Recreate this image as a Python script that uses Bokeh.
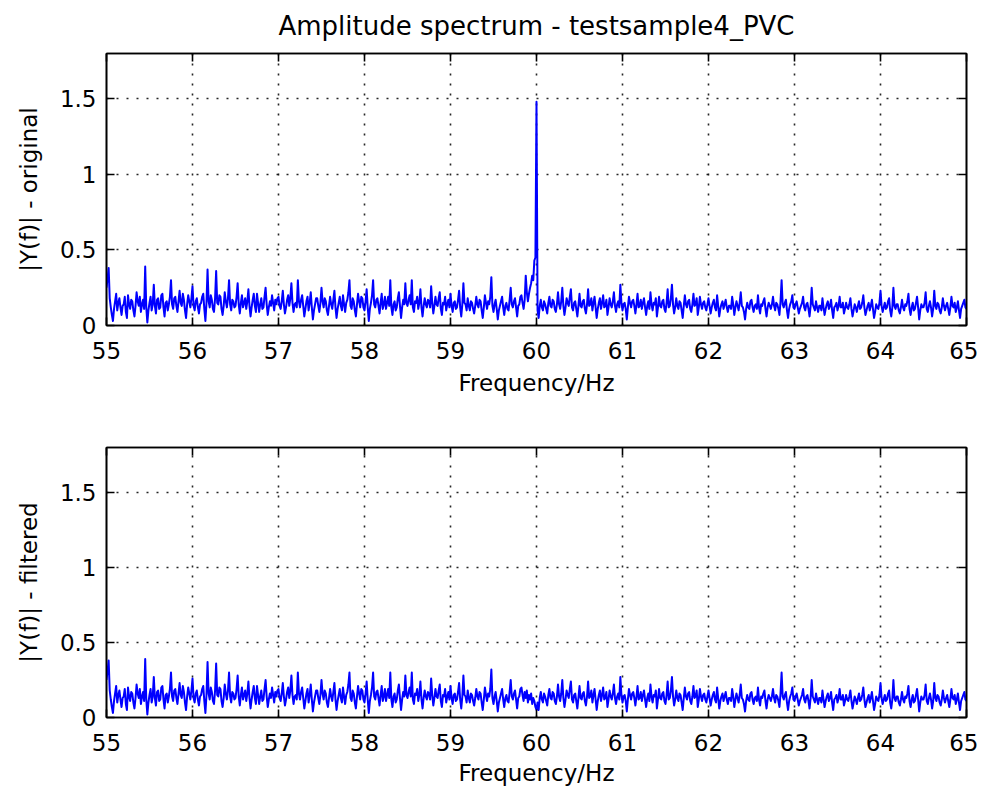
import numpy as np
from bokeh.plotting import figure
from bokeh.layouts import column
from bokeh.models import LinearAxis, Range1d, FixedTicker
from bokeh.embed import file_html
from bokeh.resources import INLINE

# ---------------- data ----------------
title_text = "Amplitude spectrum - testsample4_PVC"
x_label = "Frequency/Hz"
y_label_top = "|Y(f)| - original"
y_label_bottom = "|Y(f)| - filtered"

freq_start = 55.0
freq_step = 0.0125

# |Y(f)| original, one value per 0.0125 Hz from 55.000 to 65.000 (20 values = 0.25 Hz per row)
original = [
    0.25, 0.31, 0.38, 0.18, 0.12, 0.07, 0.03, 0.11, 0.16, 0.21, 0.10, 0.15, 0.18, 0.12, 0.07, 0.13, 0.14, 0.19, 0.09, 0.05,
    0.20, 0.14, 0.11, 0.17, 0.16, 0.10, 0.06, 0.13, 0.22, 0.16, 0.13, 0.19, 0.09, 0.14, 0.17, 0.11, 0.39, 0.12, 0.02, 0.10,
    0.15, 0.19, 0.10, 0.14, 0.27, 0.13, 0.08, 0.17, 0.18, 0.11, 0.12, 0.20, 0.21, 0.12, 0.06, 0.15, 0.16, 0.10, 0.14, 0.19,
    0.30, 0.14, 0.11, 0.18, 0.19, 0.13, 0.09, 0.16, 0.23, 0.15, 0.13, 0.21, 0.17, 0.10, 0.05, 0.14, 0.20, 0.16, 0.12, 0.18,
    0.26, 0.13, 0.10, 0.16, 0.18, 0.12, 0.08, 0.14, 0.15, 0.19, 0.21, 0.11, 0.03, 0.15, 0.37, 0.16, 0.12, 0.20, 0.17, 0.11,
    0.09, 0.18, 0.36, 0.15, 0.14, 0.20, 0.19, 0.11, 0.07, 0.13, 0.22, 0.16, 0.12, 0.18, 0.30, 0.14, 0.10, 0.17, 0.16, 0.12,
    0.13, 0.19, 0.28, 0.14, 0.08, 0.15, 0.20, 0.12, 0.15, 0.18, 0.11, 0.16, 0.24, 0.13, 0.06, 0.12, 0.17, 0.21, 0.13, 0.09,
    0.21, 0.15, 0.09, 0.14, 0.18, 0.11, 0.12, 0.19, 0.25, 0.14, 0.07, 0.12, 0.16, 0.13, 0.20, 0.15, 0.10, 0.17, 0.14, 0.18,
    0.19, 0.13, 0.11, 0.16, 0.23, 0.14, 0.08, 0.12, 0.17, 0.20, 0.13, 0.18, 0.28, 0.15, 0.09, 0.14, 0.15, 0.12, 0.30, 0.16,
    0.12, 0.17, 0.20, 0.13, 0.06, 0.11, 0.16, 0.19, 0.10, 0.15, 0.22, 0.12, 0.04, 0.10, 0.14, 0.18, 0.18, 0.13, 0.09, 0.15,
    0.25, 0.16, 0.12, 0.18, 0.16, 0.10, 0.07, 0.13, 0.19, 0.14, 0.11, 0.17, 0.23, 0.12, 0.05, 0.11, 0.15, 0.19, 0.13, 0.10,
    0.20, 0.14, 0.09, 0.15, 0.17, 0.22, 0.30, 0.13, 0.11, 0.18, 0.16, 0.10, 0.06, 0.14, 0.21, 0.16, 0.12, 0.19, 0.18, 0.12,
    0.10, 0.16, 0.24, 0.12, 0.03, 0.11, 0.15, 0.20, 0.30, 0.14, 0.12, 0.17, 0.18, 0.13, 0.08, 0.15, 0.21, 0.11, 0.14, 0.19,
    0.11, 0.15, 0.19, 0.13, 0.30, 0.12, 0.07, 0.14, 0.16, 0.10, 0.12, 0.18, 0.22, 0.13, 0.05, 0.12, 0.17, 0.14, 0.28, 0.15,
    0.13, 0.17, 0.20, 0.14, 0.30, 0.12, 0.09, 0.16, 0.15, 0.19, 0.11, 0.15, 0.24, 0.12, 0.06, 0.13, 0.18, 0.14, 0.12, 0.17,
    0.16, 0.12, 0.26, 0.15, 0.08, 0.13, 0.19, 0.14, 0.13, 0.18, 0.22, 0.11, 0.07, 0.15, 0.14, 0.19, 0.10, 0.14, 0.17, 0.12,
    0.21, 0.13, 0.09, 0.15, 0.16, 0.11, 0.12, 0.17, 0.23, 0.12, 0.06, 0.14, 0.28, 0.15, 0.14, 0.10, 0.18, 0.13, 0.10, 0.16,
    0.15, 0.11, 0.08, 0.13, 0.19, 0.14, 0.12, 0.17, 0.16, 0.10, 0.05, 0.12, 0.20, 0.15, 0.11, 0.16, 0.14, 0.19, 0.32, 0.13,
    0.09, 0.14, 0.17, 0.11, 0.04, 0.10, 0.13, 0.16, 0.19, 0.12, 0.07, 0.13, 0.15, 0.11, 0.10, 0.17, 0.25, 0.14, 0.12, 0.16,
    0.18, 0.12, 0.06, 0.13, 0.14, 0.19, 0.20, 0.15, 0.11, 0.17, 0.33, 0.22, 0.16, 0.21, 0.25, 0.28, 0.33, 0.30, 0.43, 0.45,
    1.48, 0.10, 0.05, 0.13, 0.17, 0.12, 0.10, 0.16, 0.14, 0.11, 0.08, 0.15, 0.19, 0.13, 0.12, 0.17, 0.16, 0.11, 0.09, 0.14,
    0.22, 0.14, 0.11, 0.16, 0.25, 0.13, 0.07, 0.12, 0.18, 0.15, 0.13, 0.19, 0.24, 0.12, 0.10, 0.15, 0.16, 0.11, 0.06, 0.13,
    0.21, 0.13, 0.12, 0.16, 0.17, 0.11, 0.08, 0.14, 0.24, 0.13, 0.14, 0.18, 0.10, 0.15, 0.19, 0.12, 0.05, 0.11, 0.15, 0.18,
    0.11, 0.15, 0.20, 0.12, 0.13, 0.17, 0.07, 0.12, 0.18, 0.14, 0.12, 0.16, 0.22, 0.13, 0.09, 0.14, 0.16, 0.12, 0.27, 0.15,
    0.10, 0.14, 0.15, 0.11, 0.04, 0.12, 0.19, 0.15, 0.12, 0.16, 0.17, 0.13, 0.08, 0.14, 0.21, 0.12, 0.13, 0.17, 0.11, 0.15,
    0.18, 0.12, 0.07, 0.13, 0.16, 0.11, 0.22, 0.14, 0.10, 0.15, 0.14, 0.18, 0.06, 0.12, 0.19, 0.13, 0.12, 0.16, 0.17, 0.11,
    0.09, 0.15, 0.24, 0.12, 0.13, 0.18, 0.27, 0.14, 0.08, 0.12, 0.18, 0.13, 0.11, 0.16, 0.15, 0.10, 0.05, 0.13, 0.20, 0.14,
    0.12, 0.16, 0.17, 0.11, 0.09, 0.14, 0.21, 0.13, 0.14, 0.18, 0.07, 0.12, 0.19, 0.14, 0.11, 0.15, 0.16, 0.12, 0.10, 0.14,
    0.18, 0.13, 0.08, 0.12, 0.15, 0.17, 0.12, 0.10, 0.20, 0.13, 0.06, 0.11, 0.14, 0.16, 0.11, 0.14, 0.17, 0.12, 0.09, 0.13,
    0.13, 0.11, 0.19, 0.14, 0.07, 0.12, 0.16, 0.13, 0.10, 0.15, 0.22, 0.13, 0.12, 0.09, 0.04, 0.11, 0.15, 0.12, 0.11, 0.16,
    0.17, 0.12, 0.09, 0.13, 0.14, 0.11, 0.20, 0.12, 0.08, 0.14, 0.13, 0.16, 0.18, 0.11, 0.06, 0.12, 0.15, 0.13, 0.11, 0.14,
    0.19, 0.13, 0.10, 0.15, 0.14, 0.11, 0.07, 0.16, 0.30, 0.14, 0.12, 0.15, 0.17, 0.10, 0.05, 0.11, 0.14, 0.16, 0.20, 0.12,
    0.11, 0.14, 0.16, 0.12, 0.08, 0.11, 0.13, 0.15, 0.19, 0.12, 0.10, 0.14, 0.15, 0.11, 0.06, 0.13, 0.25, 0.14, 0.12, 0.10,
    0.16, 0.12, 0.09, 0.13, 0.13, 0.10, 0.18, 0.12, 0.07, 0.11, 0.14, 0.16, 0.11, 0.13, 0.17, 0.10, 0.05, 0.12, 0.13, 0.15,
    0.10, 0.13, 0.19, 0.12, 0.12, 0.15, 0.08, 0.11, 0.15, 0.12, 0.11, 0.14, 0.18, 0.11, 0.06, 0.10, 0.14, 0.12, 0.09, 0.13,
    0.16, 0.11, 0.12, 0.15, 0.20, 0.12, 0.07, 0.10, 0.13, 0.15, 0.10, 0.13, 0.17, 0.11, 0.05, 0.09, 0.14, 0.12, 0.11, 0.15,
    0.23, 0.13, 0.09, 0.12, 0.15, 0.11, 0.12, 0.16, 0.18, 0.10, 0.06, 0.12, 0.25, 0.13, 0.11, 0.14, 0.14, 0.10, 0.08, 0.12,
    0.17, 0.12, 0.10, 0.14, 0.13, 0.16, 0.21, 0.11, 0.07, 0.12, 0.15, 0.10, 0.11, 0.15, 0.19, 0.12, 0.04, 0.10, 0.14, 0.12,
    0.12, 0.15, 0.22, 0.11, 0.09, 0.13, 0.16, 0.12, 0.06, 0.11, 0.23, 0.13, 0.11, 0.15, 0.14, 0.10, 0.08, 0.12, 0.18, 0.13,
    0.10, 0.13, 0.15, 0.11, 0.07, 0.12, 0.19, 0.13, 0.12, 0.15, 0.09, 0.12, 0.16, 0.10, 0.05, 0.11, 0.13, 0.15, 0.17, 0.12,
    0.11,
]

# the filtered spectrum equals the original except around 60 Hz (59.850 - 60.0125 Hz)
notch_start_index = 388
filtered_near_60 = [0.11, 0.17, 0.13, 0.18, 0.10, 0.15, 0.12, 0.16, 0.09, 0.13, 0.11, 0.07, 0.05, 0.10]

x_ticks = [55, 56, 57, 58, 59, 60, 61, 62, 63, 64, 65]
y_ticks = [0, 0.5, 1, 1.5]
y_tick_labels = ["0", "0.5", "1", "1.5"]
x_limits = (55, 65)
y_limits = (0, 1.8)

# ---------------- build ----------------
freq = freq_start + freq_step * np.arange(len(original))
filtered = list(original)
filtered[notch_start_index:notch_start_index + len(filtered_near_60)] = filtered_near_60

FONT = "DejaVu Sans"
TICK_FS = "23px"
LINE_BLUE = "#0000ff"


def style_axis(ax, show_labels):
    ax.axis_line_color = "black"
    ax.axis_line_width = 1.6
    ax.major_tick_line_color = "black"
    ax.major_tick_line_width = 1.6
    ax.major_tick_in = 8
    ax.major_tick_out = 0
    ax.minor_tick_line_color = None
    if show_labels:
        ax.major_label_text_font = FONT
        ax.major_label_text_font_size = TICK_FS
        ax.major_label_text_color = "black"
    else:
        ax.major_label_text_font_size = "0px"
        ax.major_label_text_color = None
        ax.major_label_standoff = 0


def make_panel(height, top_border, bottom_border, ylab, series, xlab_standoff, title=None):
    p = figure(width=978, height=height, output_backend="svg", toolbar_location=None,
               x_range=Range1d(*x_limits), y_range=Range1d(*y_limits),
               min_border_left=106, min_border_right=12,
               min_border_top=top_border, min_border_bottom=bottom_border,
               background_fill_color="white", border_fill_color="white")
    p.title.visible = False
    p.outline_line_color = "black"
    p.outline_line_width = 1.6

    # main axes
    p.xaxis.ticker = FixedTicker(ticks=x_ticks)
    p.yaxis.ticker = FixedTicker(ticks=y_ticks)
    p.yaxis.major_label_overrides = {t: s for t, s in zip(y_ticks, y_tick_labels)}
    for ax in (p.xaxis[0], p.yaxis[0]):
        style_axis(ax, True)
    p.xaxis.major_label_standoff = 16
    p.yaxis.major_label_standoff = 10
    p.xaxis.axis_label = x_label
    p.yaxis.axis_label = ylab
    for ax in (p.xaxis[0], p.yaxis[0]):
        ax.axis_label_text_font = FONT
        ax.axis_label_text_font_size = TICK_FS
        ax.axis_label_text_font_style = "normal"
        ax.axis_label_text_color = "black"
    p.xaxis.axis_label_standoff = xlab_standoff
    p.yaxis.axis_label_standoff = 15

    # box axes (ticks only); the upper one of the first panel carries the title
    right = LinearAxis(ticker=FixedTicker(ticks=y_ticks))
    style_axis(right, False)
    p.add_layout(right, "right")
    top = LinearAxis(ticker=FixedTicker(ticks=x_ticks))
    style_axis(top, False)
    if title is not None:
        top.axis_label = title
        top.axis_label_text_font = FONT
        top.axis_label_text_font_size = "26px"
        top.axis_label_text_font_style = "normal"
        top.axis_label_text_color = "black"
        top.axis_label_standoff = 13
    p.add_layout(top, "above")

    # dotted grid
    p.xgrid.ticker = FixedTicker(ticks=x_ticks)
    p.ygrid.ticker = FixedTicker(ticks=y_ticks)
    for g in (p.xgrid[0], p.ygrid[0]):
        g.grid_line_color = "black"
        g.grid_line_width = 1.6
        g.grid_line_dash = "2 8"
        g.grid_line_alpha = 0.85

    p.line(freq, series, line_color=LINE_BLUE, line_width=2.0, line_join="round")
    return p


p1 = make_panel(400, 53, 75, y_label_top, original, xlab_standoff=8, title=title_text)
p2 = make_panel(391, 47, 74, y_label_bottom, filtered, xlab_standoff=6)

layout = column(p1, p2, spacing=0)

open("out.html", "w").write(file_html(layout, INLINE))
